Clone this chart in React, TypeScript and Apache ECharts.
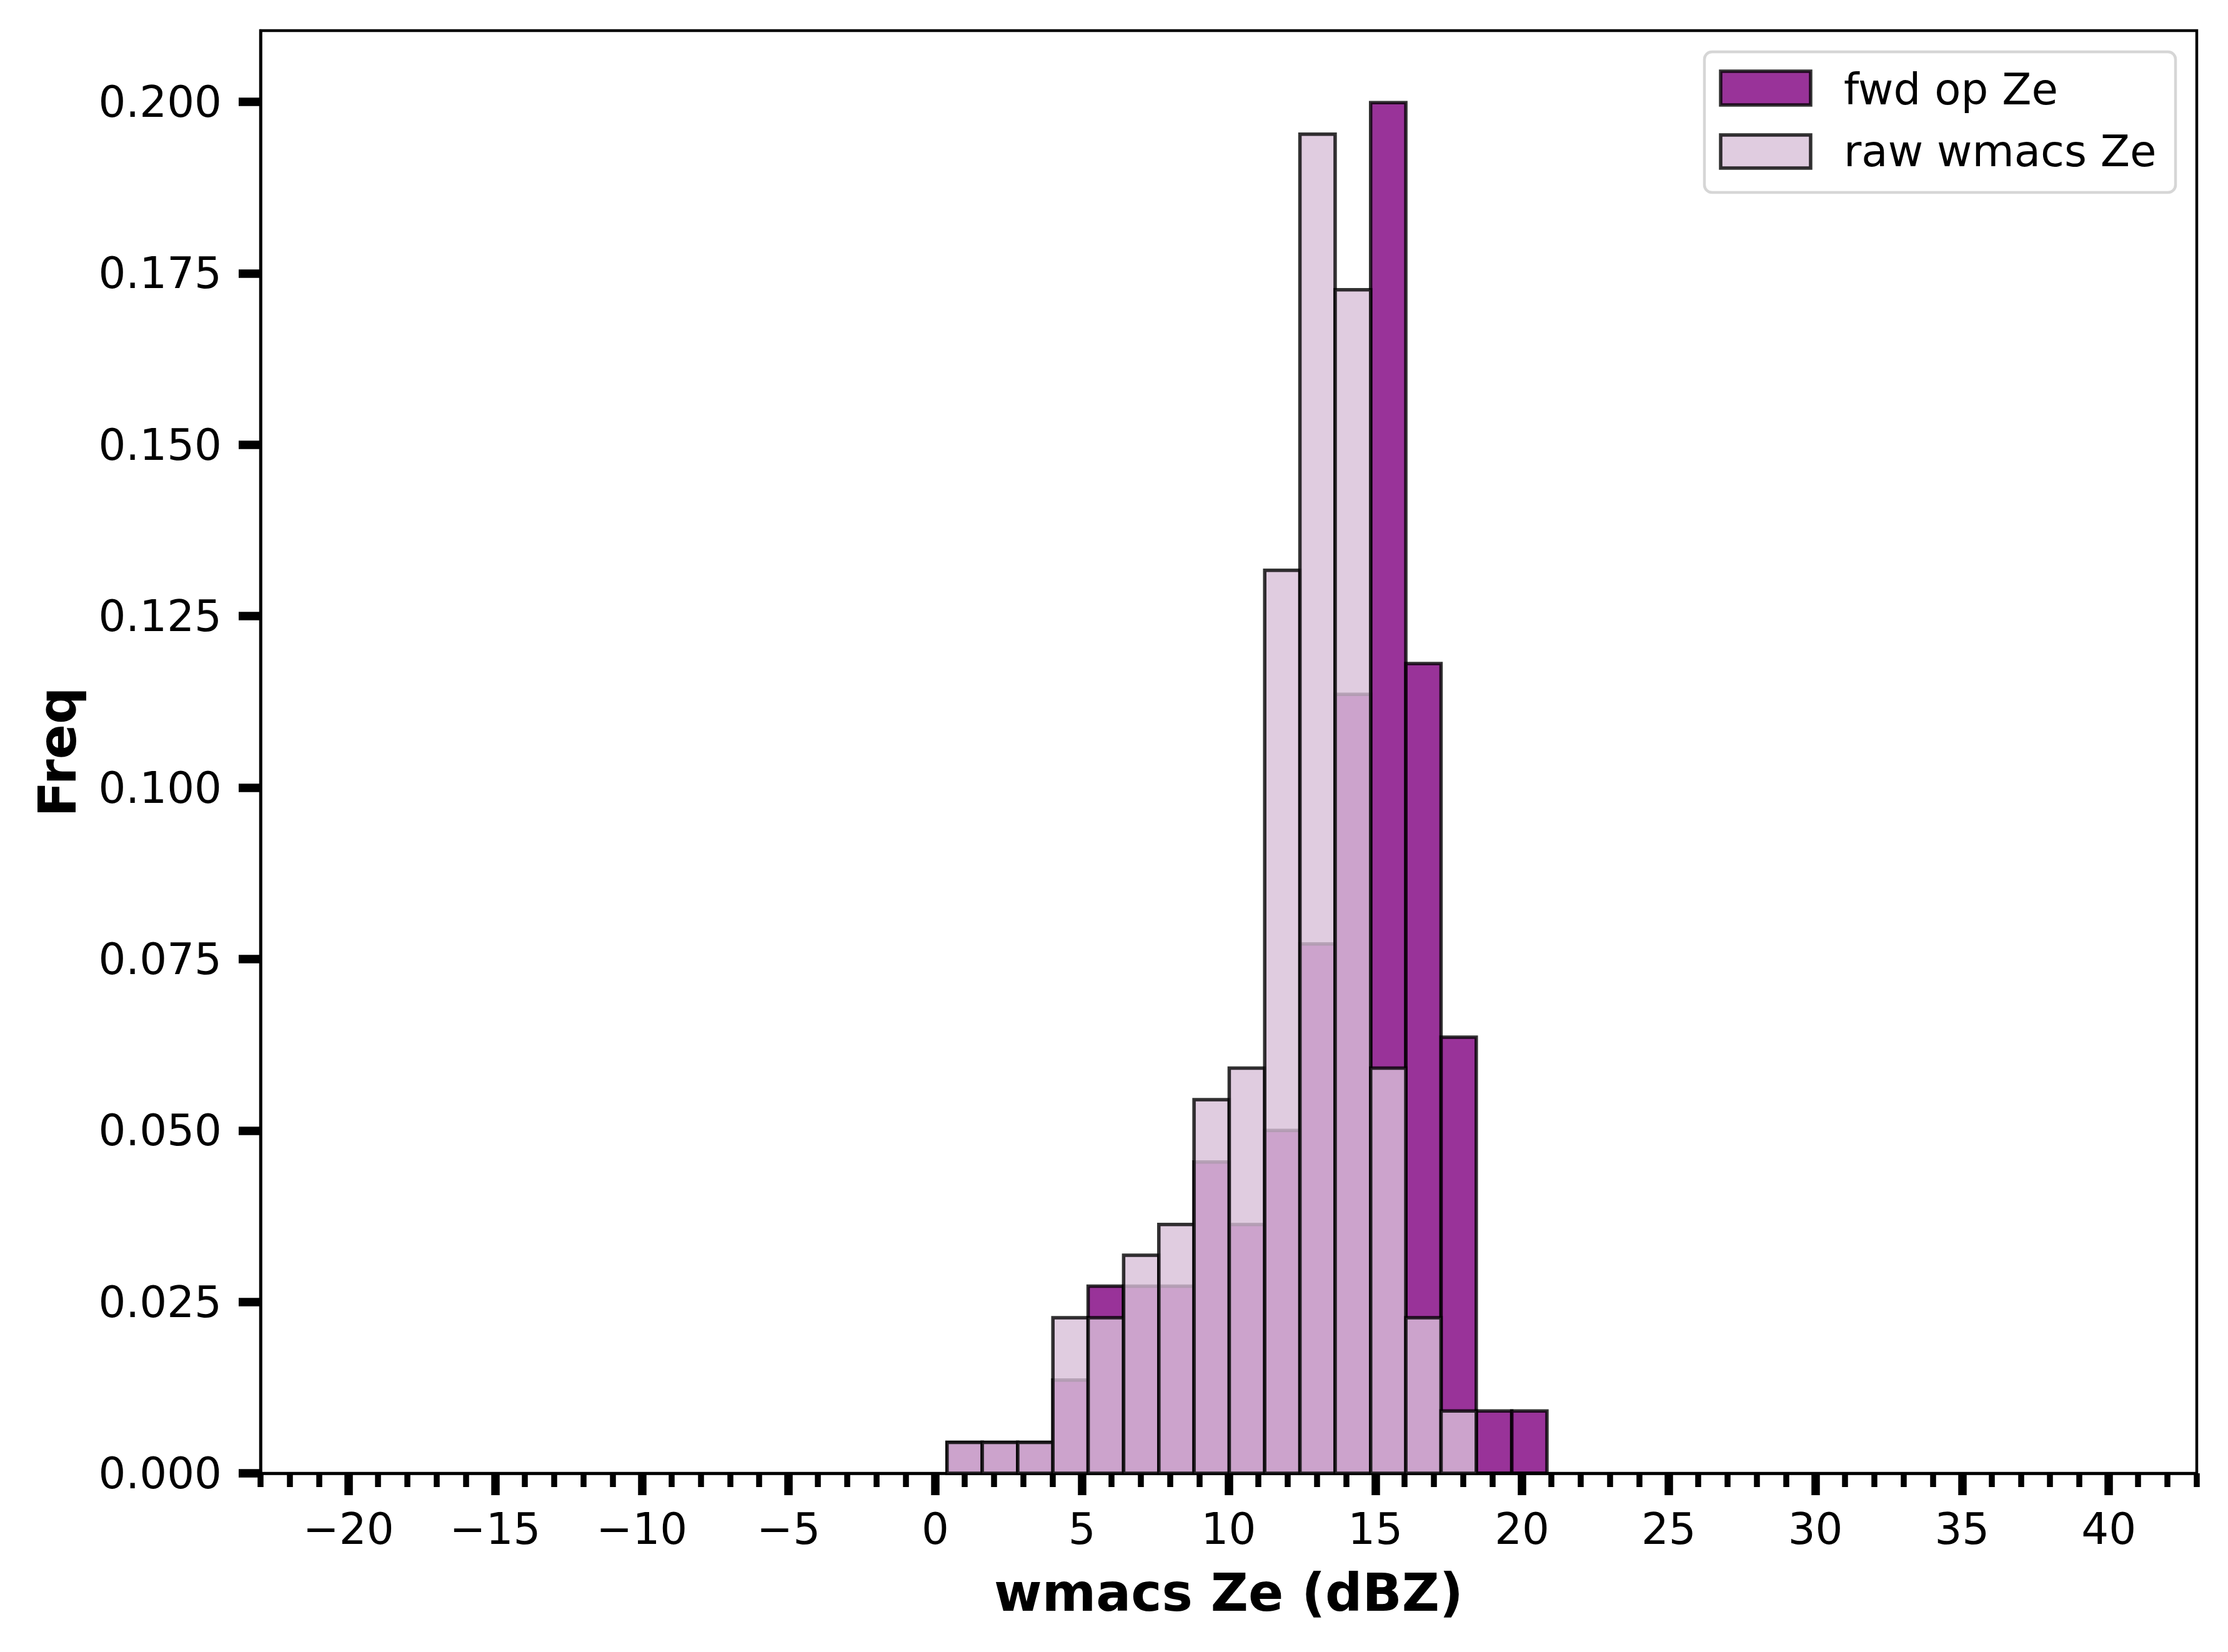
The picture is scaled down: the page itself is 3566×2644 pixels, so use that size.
import React, { useEffect, useRef } from "react";
import * as echarts from "echarts";

// Histogram bin edges (dBZ)
const binEdges = [0.40, 1.60, 2.81, 4.01, 5.21, 6.42, 7.62, 8.82, 10.02, 11.23, 12.43, 13.63, 14.84, 16.04, 17.24, 18.44, 19.65, 20.85];
// Density per bin
const fwdOpZe = [0.0045, 0.0045, 0.0045, 0.0136, 0.0273, 0.0273, 0.0273, 0.0454, 0.0363, 0.0500, 0.0772, 0.1136, 0.1999, 0.1181, 0.0636, 0.0091, 0.0091];
const rawWmacsZe = [0.0045, 0.0045, 0.0045, 0.0227, 0.0227, 0.0318, 0.0363, 0.0545, 0.0591, 0.1317, 0.1953, 0.1726, 0.0591, 0.0227, 0.0091, 0, 0];

const seriesNames = ["fwd op Ze", "raw wmacs Ze"];
const xMajorTicks = [-20, -15, -10, -5, 0, 5, 10, 15, 20, 25, 30, 35, 40];
const xMinorTicks = [-23, -22, -21, -19, -18, -17, -16, -14, -13, -12, -11, -9, -8, -7, -6, -4, -3, -2, -1, 1, 2, 3, 4, 6, 7, 8, 9, 11, 12, 13, 14, 16, 17, 18, 19, 21, 22, 23, 24, 26, 27, 28, 29, 31, 32, 33, 34, 36, 37, 38, 39, 41, 42, 43];
const yTicks = [0, 0.025, 0.05, 0.075, 0.1, 0.125, 0.15, 0.175, 0.2];

const FONT = "DejaVu Sans";
const FWD_FILL = "rgba(128,0,128,0.8)";
const RAW_FILL = "rgba(216,191,216,0.8)";
const EDGE = "rgba(0,0,0,0.8)";

function histData(values: number[]) {
  return values.map((v, i) => [binEdges[i], binEdges[i + 1], v]);
}

function makeRender(fill: string) {
  return (params: any, api: any) => {
    const p0 = api.coord([api.value(0), api.value(2)]);
    const p1 = api.coord([api.value(1), 0]);
    return {
      type: "rect",
      shape: { x: p0[0], y: p0[1], width: p1[0] - p0[0], height: p1[1] - p0[1] },
      style: { fill, stroke: EDGE, lineWidth: 5.5 },
    };
  };
}

export default function App() {
  const ref = useRef<HTMLDivElement>(null);
  useEffect(() => {
    if (!ref.current) return;
    const chart = echarts.init(ref.current, undefined, { renderer: "svg" });
    const option: any = {
      animation: false,
      backgroundColor: "#ffffff",
      grid: {
        left: 417,
        right: 50,
        top: 49,
        bottom: 286,
        show: true,
        borderColor: "#000",
        borderWidth: 4.5,
        backgroundColor: "transparent",
      },
      xAxis: [
        {
          type: "value",
          min: -23,
          max: 43,
          position: "bottom",
          splitLine: { show: false },
          axisLine: { show: true, onZero: false, lineStyle: { color: "#000", width: 4.5 } },
          axisTick: { show: true, customValues: xMajorTicks, length: 35, lineStyle: { color: "#000", width: 13.5 } },
          axisLabel: {
            customValues: xMajorTicks,
            fontSize: 69,
            fontFamily: FONT,
            color: "#000",
            margin: 54,
            formatter: (v: number) => (v < 0 ? "\u2212" + Math.abs(v) : String(v)),
          },
          name: "wmacs Ze (dBZ)",
          nameLocation: "middle",
          nameGap: 150,
          nameTextStyle: { fontSize: 83, fontWeight: "bold", fontFamily: FONT, color: "#000" },
        },
        {
          type: "value",
          min: -23,
          max: 43,
          gridIndex: 0,
          position: "bottom",
          splitLine: { show: false },
          axisLine: { show: false, onZero: false },
          axisTick: { show: true, customValues: xMinorTicks, length: 22, lineStyle: { color: "#000", width: 9.5 } },
          axisLabel: { show: false },
        },
      ],
      yAxis: {
        type: "value",
        min: 0,
        max: 0.2104,
        position: "left",
        splitLine: { show: false },
        axisLine: { show: true, onZero: false, lineStyle: { color: "#000", width: 4.5 } },
        axisTick: { show: true, customValues: yTicks, length: 35, lineStyle: { color: "#000", width: 13.5 } },
        axisLabel: {
          customValues: yTicks,
          fontSize: 69,
          fontFamily: FONT,
          color: "#000",
          margin: 62,
          formatter: (v: number) => v.toFixed(3),
        },
        name: "Freq",
        nameLocation: "middle",
        nameGap: 283,
        nameTextStyle: { fontSize: 83, fontWeight: "bold", fontFamily: FONT, color: "#000" },
      },
      series: [
        {
          type: "custom",
          name: seriesNames[0],
          xAxisIndex: 0,
          yAxisIndex: 0,
          data: histData(fwdOpZe),
          encode: { x: [0, 1], y: 2 },
          renderItem: makeRender(FWD_FILL),
          clip: false,
          z: 2,
        },
        {
          type: "custom",
          name: seriesNames[1],
          xAxisIndex: 0,
          yAxisIndex: 0,
          data: histData(rawWmacsZe),
          encode: { x: [0, 1], y: 2 },
          renderItem: makeRender(RAW_FILL),
          clip: false,
          z: 3,
        },
      ],
      graphic: [
        {
          type: "group",
          z: 100,
          children: [
            {
              type: "rect",
              shape: { x: 2728, y: 83, width: 754, height: 225, r: 12 },
              style: { fill: "rgba(255,255,255,0.8)", stroke: "#d6d6d6", lineWidth: 4.5 },
            },
            {
              type: "rect",
              shape: { x: 2754, y: 114, width: 144, height: 54 },
              style: { fill: FWD_FILL, stroke: EDGE, lineWidth: 5.5 },
            },
            {
              type: "text",
              x: 2951,
              y: 143,
              style: { text: seriesNames[0], fontSize: 69, fontFamily: FONT, fill: "#000", verticalAlign: "middle", align: "left" },
            },
            {
              type: "rect",
              shape: { x: 2754, y: 216, width: 144, height: 53 },
              style: { fill: RAW_FILL, stroke: EDGE, lineWidth: 5.5 },
            },
            {
              type: "text",
              x: 2951,
              y: 242,
              style: { text: seriesNames[1], fontSize: 69, fontFamily: FONT, fill: "#000", verticalAlign: "middle", align: "left" },
            },
          ],
        },
      ],
    };
    chart.setOption(option);
    return () => chart.dispose();
  }, []);
  return (
    <div
      ref={ref}
      style={{ position: "absolute", left: 0, top: 0, width: 3566, height: 2644, background: "#fff" }}
    />
  );
}
